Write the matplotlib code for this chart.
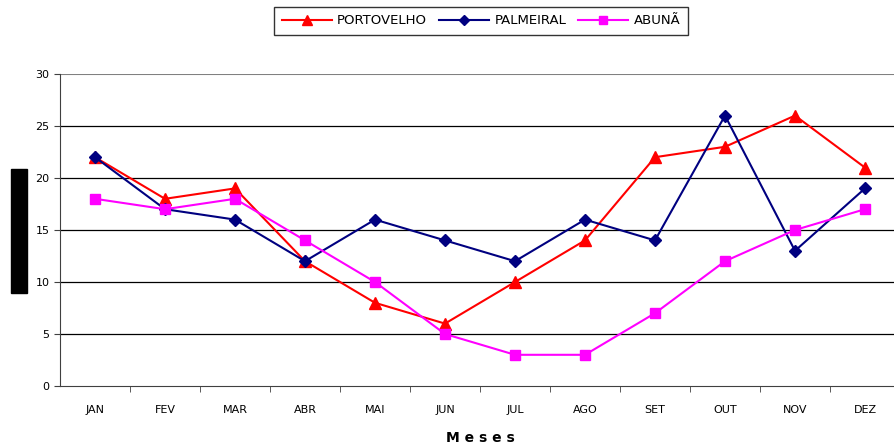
import matplotlib.pyplot as plt
import matplotlib.patches as patches

meses = ["JAN", "FEV", "MAR", "ABR", "MAI", "JUN", "JUL", "AGO", "SET", "OUT", "NOV", "DEZ"]
portovelho = [22, 18, 19, 12, 8, 6, 10, 14, 22, 23, 26, 21]
palmeiral = [22, 17, 16, 12, 16, 14, 12, 16, 14, 26, 13, 19]
abuna = [18, 17, 18, 14, 10, 5, 3, 3, 7, 12, 15, 17]

W, H = 894, 444
fig = plt.figure(figsize=(W / 100, H / 100), dpi=100)
# plot area in pixels: left 60, right 900, top 74, bottom 386
ax = fig.add_axes([60 / W, (H - 386) / H, 840 / W, 312 / H])

x = list(range(len(meses)))
l1, = ax.plot(x, portovelho, color="#ff0000", lw=1.5, marker="^", ms=8, label="PORTOVELHO")
l2, = ax.plot(x, palmeiral, color="#000080", lw=1.5, marker="D", ms=6, label="PALMEIRAL")
l3, = ax.plot(x, abuna, color="#ff00ff", lw=1.5, marker="s", ms=7, label="ABUNÃ")

ax.set_xlim(-0.5, len(meses) - 0.5)
ax.set_ylim(0, 30)
ax.set_yticks(range(0, 31, 5))
ax.set_xticks(x)
ax.set_xticklabels(meses, fontsize=8)
ax.set_xticks([i - 0.5 for i in range(1, len(meses))], minor=True)
ax.tick_params(axis="x", which="major", length=0, pad=14)
ax.tick_params(axis="x", which="minor", length=4, direction="out", color="#404040")
ax.tick_params(axis="y", labelsize=8, length=4, color="#404040")

for yv in range(5, 30, 5):
    ax.axhline(yv, color="black", lw=0.9, zorder=0)
ax.axhline(30, color="#808080", lw=1.5, zorder=0)

ax.spines["right"].set_visible(False)
ax.spines["top"].set_visible(False)
ax.spines["left"].set_color("#404040")
ax.spines["bottom"].set_color("#404040")

ax.set_xlabel("M e s e s", fontsize=10, fontweight="bold", labelpad=11)

leg = fig.legend(handles=[l1, l2, l3], loc="center", bbox_to_anchor=(481 / W, 1 - 21 / H),
                 ncol=3, fontsize=9.5, frameon=True, fancybox=False, edgecolor="black",
                 handlelength=3.8, columnspacing=0.9, handletextpad=0.4, borderpad=0.6,
                 borderaxespad=0.3, markerscale=0.85)
leg.get_frame().set_linewidth(1.0)

# redacted y-axis label block
fig.add_artist(patches.Rectangle((11 / W, 1 - 293 / H), 16 / W, 124 / H,
                                 transform=fig.transFigure, color="black"))

fig.savefig("out.png", dpi=100)
